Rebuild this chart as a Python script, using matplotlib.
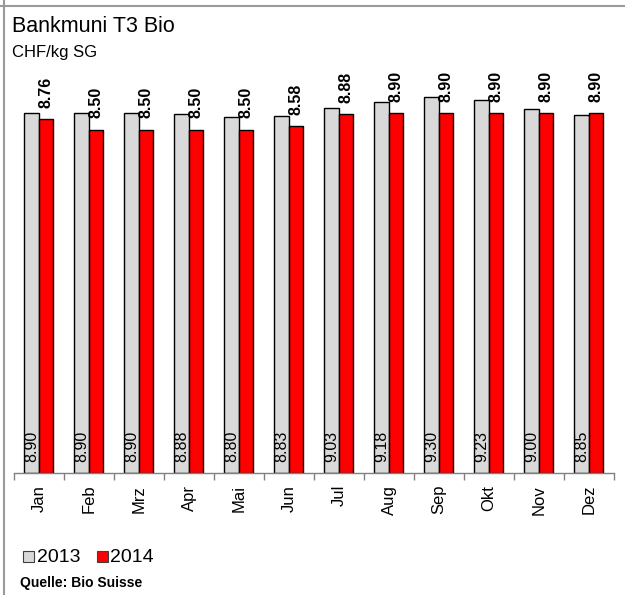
import numpy as np
import matplotlib.pyplot as plt
from matplotlib.patches import Rectangle
from matplotlib.lines import Line2D

plt.rcParams['font.family'] = ['Liberation Sans', 'DejaVu Sans']

months = ['Jan', 'Feb', 'Mrz', 'Apr', 'Mai', 'Jun', 'Jul', 'Aug', 'Sep', 'Okt', 'Nov', 'Dez']
y2013 = [8.90, 8.90, 8.90, 8.88, 8.80, 8.83, 9.03, 9.18, 9.30, 9.23, 9.00, 8.85]
y2014 = [8.76, 8.50, 8.50, 8.50, 8.50, 8.58, 8.88, 8.90, 8.90, 8.90, 8.90, 8.90]
series = ['2013', '2014']
title = 'Bankmuni T3 Bio'
unit = 'CHF/kg SG'
source = 'Quelle: Bio Suisse'

W, H = 625, 595
fig = plt.figure(figsize=(W / 100, H / 100), dpi=100)

def fx(px):
    return px / W

def fy(py):
    return 1 - py / H

# frame lines of the original layout
fig.add_artist(Line2D([0, 1], [fy(6), fy(6)], color='#9a9a9a', lw=1.5))
fig.add_artist(Line2D([fx(4), fx(4)], [0, 1], color='#9a9a9a', lw=1.5))

ax = fig.add_axes([fx(14), fy(473), fx(614) - fx(14), fy(80) - fy(473)])
x = np.arange(len(months))
ax.bar(x - 0.15, y2013, width=0.3, color='#d9d9d9', edgecolor='black', linewidth=1.0, zorder=2)
ax.bar(x + 0.14, y2014, width=0.28, color='#ff0000', edgecolor='black', linewidth=1.0, zorder=2)

ax.set_xlim(-0.5, len(months) - 0.5)
ax.set_ylim(0, 393 / 40.4)

for i in range(len(months)):
    ax.annotate(f'{y2014[i]:.2f}', (x[i] + 0.14, y2014[i]), xytext=(0, 8), textcoords='offset points',
                rotation=90, ha='center', va='bottom', fontsize=11.5, fontweight='bold')
    ax.annotate(f'{y2013[i]:.2f}', (x[i] - 0.15, 0), xytext=(0, 8), textcoords='offset points',
                rotation=90, ha='center', va='bottom', fontsize=11.5)

for s in ['top', 'right', 'left']:
    ax.spines[s].set_visible(False)
ax.spines['bottom'].set_color('#808080')
ax.spines['bottom'].set_linewidth(1.0)
ax.set_yticks([])
ax.set_xticks(np.arange(-0.5, len(months), 1.0))
ax.set_xticklabels([])
ax.tick_params(axis='x', which='major', length=5, color='#808080', width=1.0, direction='out')
ax.set_xticks(x, minor=True)
ax.set_xticklabels(months, minor=True, rotation=90, fontsize=12)
ax.tick_params(axis='x', which='minor', length=0, pad=8.5)

fig.text(fx(12), fy(32), title, fontsize=15.5, va='baseline')
fig.text(fx(12), fy(57), unit, fontsize=12, va='baseline')

# legend
fig.add_artist(Rectangle((fx(23), fy(562)), fx(11), 11 / H, facecolor='#d9d9d9', edgecolor='#404040', lw=0.8))
fig.text(fx(37), fy(562), series[0], fontsize=14, va='baseline')
fig.add_artist(Rectangle((fx(97), fy(562)), fx(11), 11 / H, facecolor='#ff0000', edgecolor='#404040', lw=0.8))
fig.text(fx(110), fy(562), series[1], fontsize=14, va='baseline')

fig.text(fx(20), fy(587), source, fontsize=10, fontweight='bold', va='baseline')

fig.savefig('out.png', dpi=100)
